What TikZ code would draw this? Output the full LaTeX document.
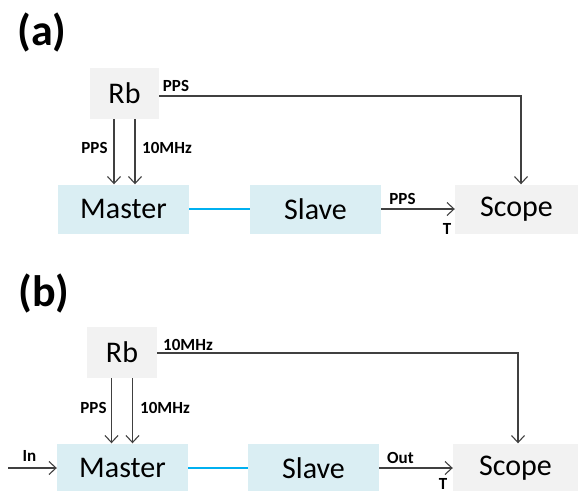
\documentclass[tikz,border=0pt]{standalone}
\usepackage{fontspec}
\setmainfont{Carlito}
\usetikzlibrary{arrows.meta,calc}
\definecolor{bluebox}{HTML}{DAEEF3}
\definecolor{graybox}{HTML}{F2F2F2}
\definecolor{linec}{HTML}{404040}
\definecolor{bluelink}{HTML}{00B0F0}
\tikzset{
  box/.style={rectangle, inner sep=0pt, minimum height=49pt, font=\fontsize{30}{30}\selectfont, text=black},
  bbox/.style={box, fill=bluebox, minimum width=131pt},
  gbox/.style={box, fill=graybox},
  lbl/.style={inner sep=0pt, font=\fontsize{17}{17}\selectfont\bfseries, text=black},
  panel/.style={inner sep=0pt, font=\fontsize{44}{44}\selectfont\bfseries},
  arr/.style={draw=linec, line width=1.1pt, -{Straight Barb[length=7pt,width=13pt,line width=1.1pt]}},
  link/.style={draw=bluelink, line width=1.3pt}
}
\begin{document}
\begin{tikzpicture}[x=1pt,y=-1pt]
\useasboundingbox (0,0) rectangle (581,490);
% ---------- panel (a)
\node[panel] (pa) at (42,33) {(a)};
\node[gbox, minimum width=69pt, minimum height=51pt] (rbA) at (124.5,93.5) {Rb};
\node[bbox] (masterA) at (123.5,209) {Master};
\node[bbox] (slaveA) at (315.5,209) {Slave};
\node[gbox, minimum width=123pt] (scopeA) at (516.5,209) {Scope};
\draw[arr] ([xshift=-10.5pt]rbA.south) -- ([xshift=-10.5pt]rbA.south |- masterA.north);
\draw[arr] ([xshift=10.5pt]rbA.south) -- ([xshift=10.5pt]rbA.south |- masterA.north);
\node[lbl] (ppsA1) at (94.5,148) {PPS};
\node[lbl] (mhzA1) at (167,148) {10MHz};
\coordinate (cornA) at (521,96);
\draw[arr] (rbA.east |- cornA) -- (cornA) -- (cornA |- scopeA.north);
\node[lbl] (ppsA2) at (176,85.5) {PPS};
\draw[link] (masterA.east) -- (slaveA.west);
\draw[arr] (slaveA.east) -- (scopeA.west);
\node[lbl] (ppsA3) at (402.5,198.5) {PPS};
\node[lbl] (tA) at (447,228.5) {T};
% ---------- panel (b)
\node[panel] (pb) at (44,293) {(b)};
\node[gbox, minimum width=70pt, minimum height=51pt] (rbB) at (122,352.5) {Rb};
\node[bbox] (masterB) at (122.5,468) {Master};
\node[bbox] (slaveB) at (313.5,468) {Slave};
\node[gbox, minimum width=125pt] (scopeB) at (515.5,468) {Scope};
\draw[arr] ([xshift=-10.5pt]rbB.south) -- ([xshift=-10.5pt]rbB.south |- masterB.north);
\draw[arr] ([xshift=10.5pt]rbB.south) -- ([xshift=10.5pt]rbB.south |- masterB.north);
\node[lbl] (ppsB1) at (93.5,407.5) {PPS};
\node[lbl] (mhzB1) at (165,407.5) {10MHz};
\coordinate (cornB) at (518,353);
\draw[arr] (rbB.east |- cornB) -- (cornB) -- (cornB |- scopeB.north);
\node[lbl] (mhzB2) at (188,344.5) {10MHz};
\coordinate (inStart) at (8,468);
\draw[arr] (inStart) -- (masterB.west |- inStart);
\node[lbl] (inB) at (29.5,456) {In};
\draw[link] (masterB.east) -- (slaveB.west);
\draw[arr] (slaveB.east) -- (scopeB.west);
\node[lbl] (outB) at (400.5,457.5) {Out};
\node[lbl] (tB) at (443,484) {T};
\end{tikzpicture}
\end{document}
